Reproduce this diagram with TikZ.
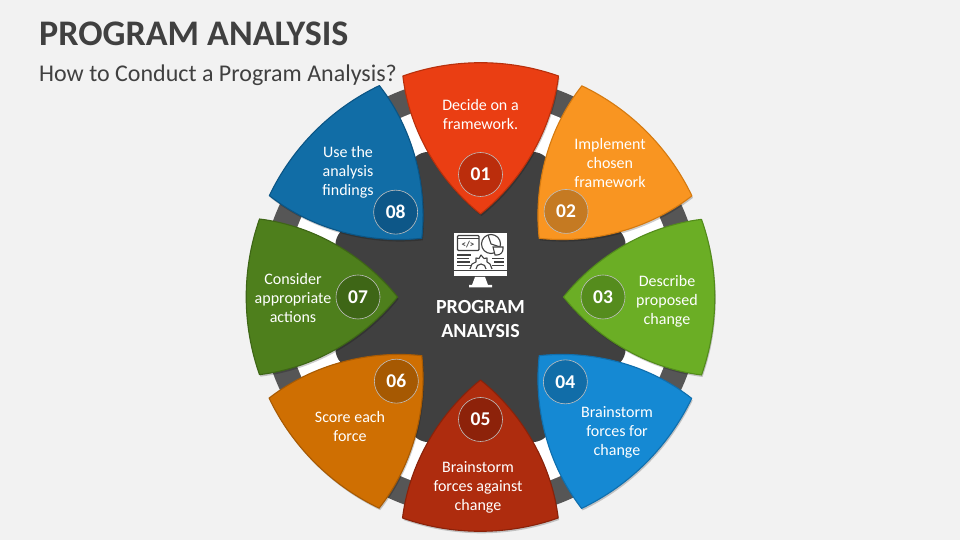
\documentclass[tikz,border=0pt]{standalone}
\usepackage{fontspec}
\setmainfont{Carlito}
\definecolor{bg}{HTML}{F2F2F2}
\definecolor{ink}{HTML}{404040}
\definecolor{ringgray}{HTML}{565656}
\definecolor{fillzero}{HTML}{EA3E13}\definecolor{edgezero}{HTML}{B8300C}\definecolor{badgezero}{HTML}{BB2D0C}
\definecolor{fillone}{HTML}{F99521}\definecolor{edgeone}{HTML}{D57A10}\definecolor{badgeone}{HTML}{C57A22}
\definecolor{filltwo}{HTML}{6BAE25}\definecolor{edgetwo}{HTML}{538C1B}\definecolor{badgetwo}{HTML}{558C1D}
\definecolor{fillthree}{HTML}{1589D3}\definecolor{edgethree}{HTML}{0F6FAE}\definecolor{badgethree}{HTML}{116DA8}
\definecolor{fillfour}{HTML}{AE2C0E}\definecolor{edgefour}{HTML}{8A220A}\definecolor{badgefour}{HTML}{8D220A}
\definecolor{fillfive}{HTML}{CF6F02}\definecolor{edgefive}{HTML}{A85A02}\definecolor{badgefive}{HTML}{A65902}
\definecolor{fillsix}{HTML}{4E7F1C}\definecolor{edgesix}{HTML}{3E6616}\definecolor{badgesix}{HTML}{3E6616}
\definecolor{fillseven}{HTML}{116DA6}\definecolor{edgeseven}{HTML}{0B5585}\definecolor{badgeseven}{HTML}{0D5788}
\def\petalpath{(0,83) .. controls (40,115) and (71,165) .. (78,221) arc (70.6:109.4:234.3) .. controls (-71,165) and (-40,115) .. cycle}
\tikzset{
  x=1pt,y=1pt,
  lab/.style={text=white,align=center,font=\fontsize{16}{19}\selectfont,inner sep=0pt},
  num/.style={text=white,font=\fontsize{19.5}{20}\selectfont\bfseries,inner sep=0pt},
  badge/.style={circle,minimum size=44pt,inner sep=0pt,draw=white!75!black,line width=.6pt},
  iconline/.style={draw=ink,line width=1.1pt},
}
\newcommand{\petal}[3]{% index, colour word, badge radius
  \begin{scope}[shift={(481.5,241)},rotate=-45*#1,opacity=.2]
    \fill[black] \petalpath;
  \end{scope}
  \begin{scope}[shift={(480.5,243)},rotate=-45*#1]
    \fill[fill=fill#2,draw=edge#2,line width=1.1pt,line join=round] \petalpath;
    \node[badge,fill=badge#2] (b#1) at (0,#3) {};
  \end{scope}
}
\begin{document}
\begin{tikzpicture}
\useasboundingbox (0,0) rectangle (960,540);
\fill[bg] (0,0) rectangle (960,540);
\node[anchor=base west,text=ink,font=\fontsize{36}{36}\selectfont\bfseries,inner sep=0pt] (title) at (39,494) {PROGRAM ANALYSIS};
\node[anchor=base west,text=ink,font=\fontsize{24}{24}\selectfont,inner sep=0pt] (subtitle) at (39,458) {How to Conduct a Program Analysis?};
\begin{scope}[shift={(480.5,243)}]
  \fill[ringgray] (0,0) circle (221);
  \fill[white] (0,0) circle (196);
  \fill[ink,rounded corners=7pt] (22.5:157) -- (67.5:157) -- (112.5:157) -- (157.5:157) -- (202.5:157) -- (247.5:157) -- (292.5:157) -- (337.5:157) -- cycle;
\end{scope}
\petal{0}{zero}{122.5}
\petal{1}{one}{121}
\petal{2}{two}{122.5}
\petal{3}{three}{120}
\petal{4}{four}{122.5}
\petal{5}{five}{119}
\petal{6}{six}{122.5}
\petal{7}{seven}{120}
\node[num] at (b0) {01};
\node[num] at (b1) {02};
\node[num] at (b2) {03};
\node[num] at (b3) {04};
\node[num] at (b4) {05};
\node[num] at (b5) {06};
\node[num] at (b6) {07};
\node[num] at (b7) {08};
\node[lab] (t1) at (480.5,425) {Decide on a\\framework.};
\node[lab] (t2) at (610,377) {Implement\\chosen\\framework};
\node[lab] (t3) at (667,239) {Describe\\proposed\\change};
\node[lab] (t4) at (617,108) {Brainstorm\\forces for\\change};
\node[lab] (t5) at (478,53) {Brainstorm\\forces against\\change};
\node[lab] (t6) at (350,113.5) {Score each\\force};
\node[lab] (t7) at (293,242) {Consider\\appropriate\\actions};
\node[lab] (t8) at (348,368) {Use the\\analysis\\findings};
% icon
\fill[white] (454,307) rectangle (507,270);
\fill[white] (454,269) rectangle (507,263.5);
\fill[white] (475,263) -- (485,263) -- (488,255) -- (492,255) -- (492,252.5) -- (469,252.5) -- (469,255) -- (472,255) -- cycle;
\draw[iconline,rounded corners=1pt] (457.5,304.5) rectangle (479,289.5);
\draw[iconline] (457.5,301.5) -- (479,301.5);
\node[text=ink,font=\fontsize{9}{9}\selectfont\bfseries,inner sep=0pt] (code) at (468,295) {</>};
\draw[iconline] (491,296) circle (9.5);
\draw[iconline] (491,296) -- (488,305) (491,296) -- (500,293);
\draw[iconline,fill=white] (493,293) -- (503,293) -- (503,291) arc (0:-90:6) -- (495,285) -- cycle;
\draw[iconline] (457,285) -- (471,285) (457,281.5) -- (469,281.5) (457,278) -- (470,278) (457,274.5) -- (472,274.5);
\draw[iconline] (492,281.5) -- (504,281.5) (494,278) -- (504,278) (492,274.5) -- (504,274.5);
\draw[iconline,line join=round] (470,271) -- (472,276) -- (476,278) -- (476,282) -- (479,281.5) -- (481,285) -- (484,281.5) -- (487,282) -- (487,278) -- (490,276) -- (492,271);
\draw[iconline] (476,271) arc (180:0:5);
\node[text=white,align=center,font=\fontsize{20}{24}\selectfont\bfseries,inner sep=0pt] (center) at (480.5,221) {PROGRAM\\ANALYSIS};
\end{tikzpicture}
\end{document}
